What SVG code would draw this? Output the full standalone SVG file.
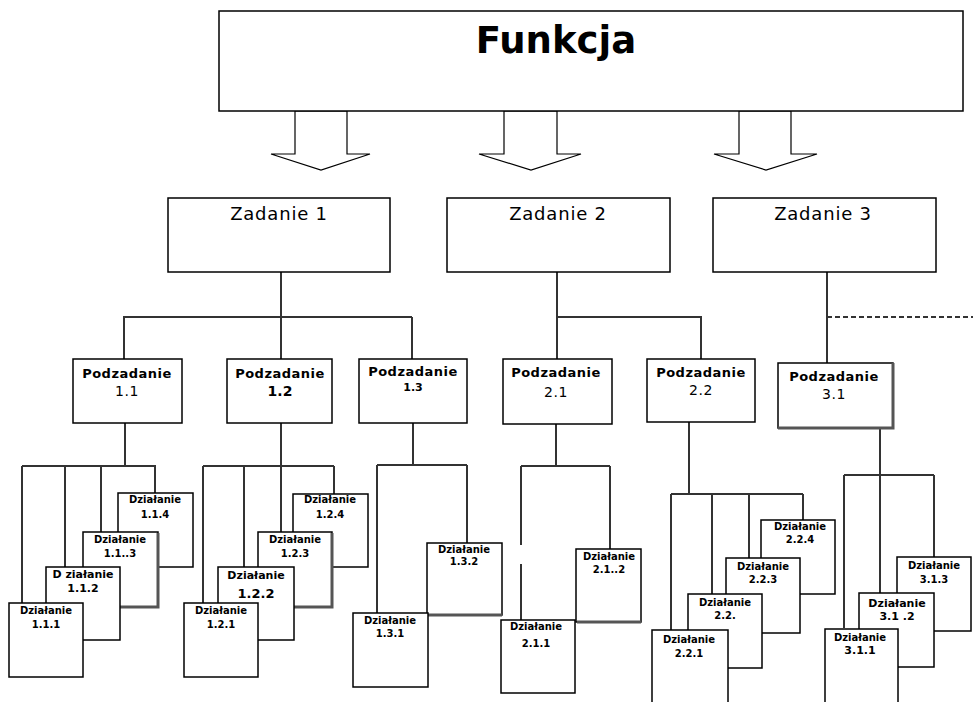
<svg xmlns="http://www.w3.org/2000/svg" width="973" height="702" viewBox="0 0 973 702">
<style>
.box{fill:#fff;stroke:#000;stroke-width:1.5}
.sh{fill:none;stroke:#555;stroke-width:3}
.arrow{fill:#fff;stroke:#000;stroke-width:1.2}
.conn{fill:none;stroke:#333;stroke-width:2}
.dash{fill:none;stroke:#333;stroke-width:2;stroke-dasharray:5 3}
text{font-family:"DejaVu Sans","Liberation Sans",sans-serif;fill:#000;text-anchor:middle}
.fun{font-size:37px;font-weight:bold}
.zad{font-size:18px;letter-spacing:0.8px}
.pod{font-size:13px;font-weight:bold;letter-spacing:0.5px}
.num{font-size:14px;letter-spacing:0.5px}
.numb{font-size:14px;font-weight:bold}
.dz{font-size:10px;font-weight:bold}
.dzl{font-size:11px;font-weight:bold}
.dzx{font-size:13px;font-weight:bold}
</style>
<rect width="973" height="702" fill="#fff"/>

<g id="arrows">
<polygon class="arrow" points="295,111 295,154 271,154 321,170 370,154 347,154 347,111"/>
<polygon class="arrow" points="504,111 504,154 479,154 531,170 581,154 557,154 557,111"/>
<polygon class="arrow" points="739,111 739,154 714,154 766,170 817,154 791,154 791,111"/>
</g>

<g id="funkcja">
<rect class="box" x="219" y="11" width="744" height="100"/>
<text class="fun" x="556" y="53">Funkcja</text>
</g>

<g id="connectors">
<path class="conn" d="M281,272V359M123,317H412M124,317V359M412,317V359"/>
<path class="conn" d="M557,272V359M557,317H701V359"/>
<path class="conn" d="M827,272V363" stroke="#555"/>
<path class="dash" d="M827,317H973"/>
<path class="conn" d="M125,423V466M22,466H156M22,466V603M65,466V567M101,466V532M155,466V493"/>
<path class="conn" d="M281,423V466M203,466H334M203,466V603M244,466V567M281,466V532M334,466V494"/>
<path class="conn" d="M413,423V465M377,465H467M377,465V613M467,465V543"/>
<path class="conn" d="M556,424V466M521,466H610M521,466V545M521,564V620M610,466V549"/>
<path class="conn" d="M689,422V494M671,494H803M671,494V630M712,494V594M749,494V558M803,494V520"/>
<path class="conn" d="M880,428V593M844,475H934M844,475V628M934,475V557"/>
</g>

<g id="zadanie1"><rect class="box" x="168" y="198" width="222" height="74"/><text class="zad" x="279" y="220">Zadanie 1</text></g>
<g id="zadanie2"><rect class="box" x="447" y="198" width="223" height="74"/><text class="zad" x="558" y="220">Zadanie 2</text></g>
<g id="zadanie3"><rect class="box" x="713" y="198" width="223" height="74"/><text class="zad" x="823" y="220">Zadanie 3</text></g>

<g id="pod11"><rect class="box" x="73" y="359" width="109" height="64"/><text class="pod" x="127" y="378">Podzadanie</text><text class="num" x="127" y="396">1.1</text></g>
<g id="pod12"><rect class="box" x="227" y="359" width="105" height="64"/><text class="pod" x="280" y="378">Podzadanie</text><text class="numb" x="280" y="396">1.2</text></g>
<g id="pod13"><rect class="box" x="359" y="359" width="108" height="64"/><text class="pod" x="413" y="376">Podzadanie</text><text class="dzl" x="413" y="391">1.3</text></g>
<g id="pod21"><rect class="box" x="503" y="359" width="109" height="65"/><text class="pod" x="556" y="377">Podzadanie</text><text class="num" x="556" y="397">2.1</text></g>
<g id="pod22"><rect class="box" x="647" y="359" width="108" height="63"/><text class="pod" x="701" y="377">Podzadanie</text><text class="num" x="701" y="395">2.2</text></g>
<g id="pod31"><rect class="box" x="778" y="363" width="115" height="65"/><path class="sh" d="M778,428H893V363" stroke="#111"/><text class="pod" x="834" y="381">Podzadanie</text><text class="num" x="834" y="399">3.1</text></g>

<g id="dz114"><rect class="box" x="118" y="493" width="75" height="74"/><text class="dz" x="155" y="503">Działanie</text><text class="dz" x="155" y="518">1.1.4</text></g>
<g id="dz113"><rect class="box" x="83" y="532" width="75" height="75"/><path class="sh" d="M84,607H158V533"/><text class="dz" x="120" y="543">Działanie</text><text class="dz" x="120" y="557">1.1..3</text></g>
<g id="dz112"><rect class="box" x="46" y="567" width="74" height="73"/><text class="dzl" x="83" y="578">D ziałanie</text><text class="dzl" x="83" y="592">1.1.2</text></g>
<g id="dz111"><rect class="box" x="9" y="603" width="74" height="74"/><text class="dz" x="46" y="614">Działanie</text><text class="dz" x="46" y="628">1.1.1</text></g>

<g id="dz124"><rect class="box" x="293" y="494" width="75" height="73"/><text class="dz" x="330" y="503">Działanie</text><text class="dz" x="330" y="518">1.2.4</text></g>
<g id="dz123"><rect class="box" x="258" y="532" width="74" height="75"/><path class="sh" d="M259,607H332V533"/><text class="dz" x="295" y="543">Działanie</text><text class="dz" x="295" y="557">1.2.3</text></g>
<g id="dz122"><rect class="box" x="218" y="567" width="76" height="73"/><text class="dzl" x="256" y="579">Działanie</text><text class="dzx" x="256" y="598">1.2.2</text></g>
<g id="dz121"><rect class="box" x="184" y="603" width="74" height="74"/><text class="dz" x="221" y="614">Działanie</text><text class="dz" x="221" y="628">1.2.1</text></g>

<g id="dz132"><rect class="box" x="427" y="543" width="75" height="72"/><path class="sh" d="M428,615H502" stroke="#666"/><text class="dz" x="464" y="553">Działanie</text><text class="dz" x="464" y="565">1.3.2</text></g>
<g id="dz131"><rect class="box" x="353" y="613" width="75" height="74"/><text class="dz" x="390" y="624">Działanie</text><text class="dz" x="390" y="637">1.3.1</text></g>

<g id="dz212"><rect class="box" x="576" y="549" width="65" height="73"/><path class="sh" d="M577,622H641" stroke="#777"/><text class="dz" x="609" y="560">Działanie</text><text class="dz" x="609" y="573">2.1..2</text></g>
<g id="dz211"><rect class="box" x="501" y="620" width="74" height="73"/><text class="dz" x="536" y="630">Działanie</text><text class="dz" x="536" y="647">2.1.1</text></g>

<g id="dz224"><rect class="box" x="761" y="520" width="74" height="74"/><text class="dz" x="800" y="530">Działanie</text><text class="dz" x="800" y="543">2.2.4</text></g>
<g id="dz223"><rect class="box" x="726" y="558" width="74" height="75"/><text class="dz" x="763" y="570">Działanie</text><text class="dz" x="763" y="583">2.2.3</text></g>
<g id="dz222"><rect class="box" x="688" y="594" width="74" height="74"/><text class="dz" x="725" y="606">Działanie</text><text class="dz" x="725" y="619">2.2.</text></g>
<g id="dz221"><rect class="box" x="652" y="630" width="76" height="76"/><text class="dz" x="689" y="643">Działanie</text><text class="dz" x="689" y="657">2.2.1</text></g>

<g id="dz313"><rect class="box" x="897" y="557" width="74" height="74"/><text class="dz" x="934" y="569">Działanie</text><text class="dz" x="934" y="583">3.1.3</text></g>
<g id="dz312"><rect class="box" x="859" y="593" width="75" height="74"/><text class="dzl" x="897" y="607">Działanie</text><text class="dzl" x="897" y="620">3.1 .2</text></g>
<g id="dz311"><rect class="box" x="825" y="629" width="73" height="76"/><text class="dz" x="860" y="641">Działanie</text><text class="dzl" x="860" y="654">3.1.1</text></g>
</svg>
